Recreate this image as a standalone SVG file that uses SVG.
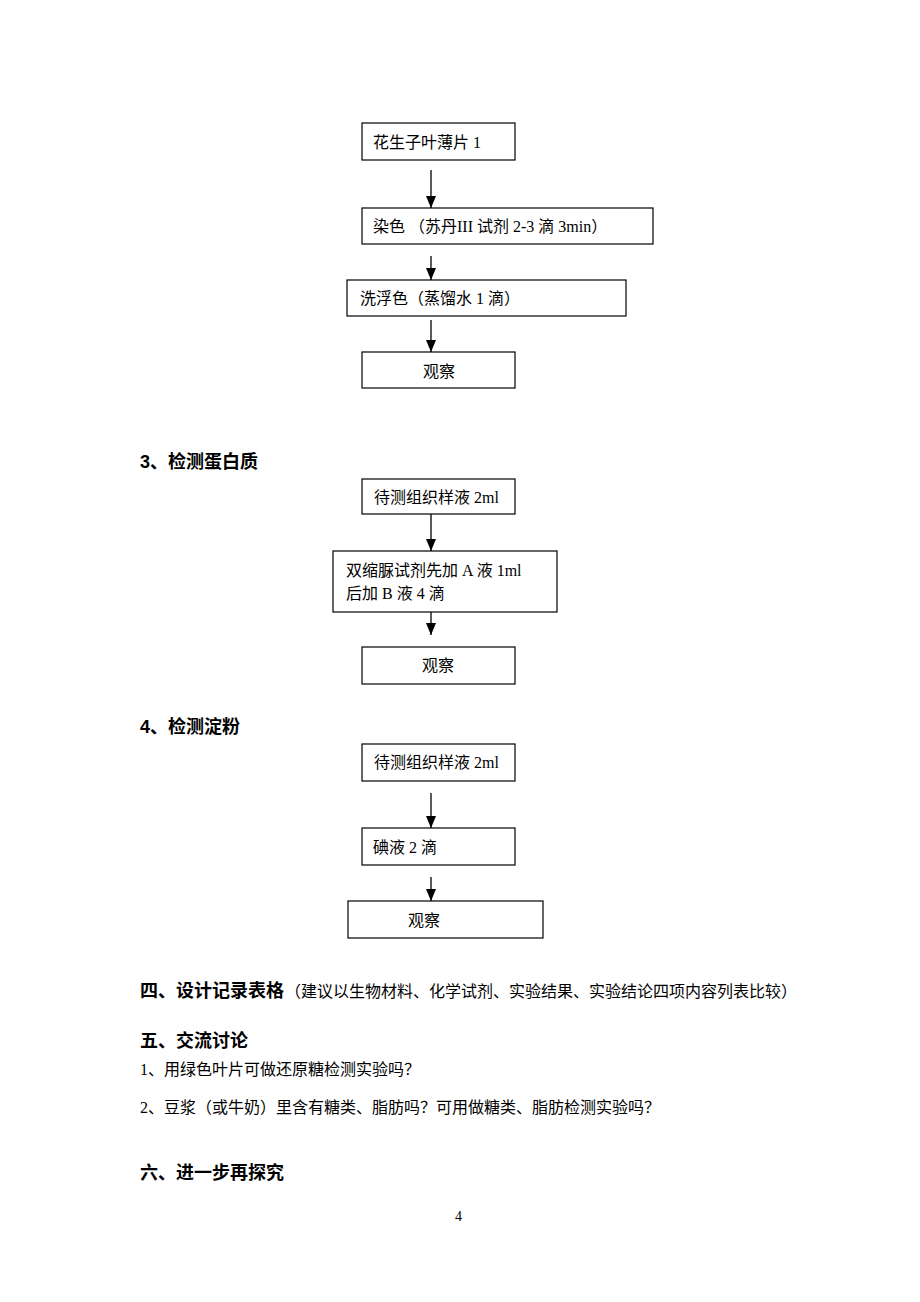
<svg xmlns="http://www.w3.org/2000/svg" width="920" height="1302" viewBox="0 0 920 1302">
<style>
.box{fill:#fff;stroke:#000;stroke-width:1.2}
.bt{font-family:'Liberation Serif','Noto Sans CJK SC',serif;font-size:16px;fill:#000}
.h{font-family:'Liberation Sans','Noto Sans CJK SC',sans-serif;font-size:18px;font-weight:bold;fill:#000}
.p{font-family:'Liberation Serif','Noto Sans CJK SC',serif;font-size:16px;fill:#000}
.con line{stroke:#000;stroke-width:1.3;marker-end:url(#ah)}
</style>
<defs>
<marker id="ah" markerUnits="userSpaceOnUse" markerWidth="12" markerHeight="10" refX="12" refY="5" orient="auto" viewBox="0 0 12 10">
<path d="M0,0 L12,5 L0,10 Z" fill="#000"/>
</marker>
</defs>
<rect width="920" height="1302" fill="#fff"/>

<g id="n1"><rect class="box" x="362" y="123" width="153" height="37"/><text class="bt" x="373" y="148">花生子叶薄片 1</text></g>
<g id="n2"><rect class="box" x="362" y="208" width="291" height="36"/><text class="bt" x="373" y="232">染色 （苏丹III  试剂 2-3 滴 3min）</text></g>
<g id="n3"><rect class="box" x="347" y="280" width="279" height="36"/><text class="bt" x="360" y="304">洗浮色（蒸馏水 1 滴）</text></g>
<g id="n4"><rect class="box" x="362" y="352" width="153" height="36"/><text class="bt" x="423" y="377">观察</text></g>

<g id="h3"><text class="h" x="140" y="468">3、检测蛋白质</text></g>
<g id="n5"><rect class="box" x="362" y="479" width="153" height="35"/><text class="bt" x="374" y="503">待测组织样液 2ml</text></g>
<g id="n6"><rect class="box" x="333" y="551" width="224" height="61"/><text class="bt" x="346" y="576">双缩脲试剂先加 A 液 1ml</text><text class="bt" x="346" y="599">后加 B 液 4 滴</text></g>
<g id="n7"><rect class="box" x="362" y="647" width="153" height="37"/><text class="bt" x="422" y="671">观察</text></g>

<g id="h4"><text class="h" x="140" y="733">4、检测淀粉</text></g>
<g id="n8"><rect class="box" x="362" y="744" width="153" height="37"/><text class="bt" x="374" y="768">待测组织样液 2ml</text></g>
<g id="n9"><rect class="box" x="362" y="828" width="153" height="37"/><text class="bt" x="373" y="853">碘液 2 滴</text></g>
<g id="n10"><rect class="box" x="348" y="901" width="195" height="37"/><text class="bt" x="408" y="926">观察</text></g>

<g id="con" class="con">
<line x1="431" y1="170" x2="431" y2="208"/>
<line x1="431" y1="256" x2="431" y2="280"/>
<line x1="431" y1="320" x2="431" y2="352"/>
<line x1="431" y1="514" x2="431" y2="551"/>
<line x1="431" y1="612" x2="431" y2="635"/>
<line x1="431" y1="793" x2="431" y2="828"/>
<line x1="431" y1="877" x2="431" y2="901"/>
</g>

<g id="text">
<text x="140" y="997"><tspan class="h">四、设计记录表格</tspan><tspan class="p" dx="1">（建议以生物材料、化学试剂、实验结果、实验结论四项内容列表比较）</tspan></text>
<text class="h" x="140" y="1047">五、交流讨论</text>
<text class="p" x="140" y="1075">1、用绿色叶片可做还原糖检测实验吗？</text>
<text class="p" x="140" y="1113">2、豆浆（或牛奶）里含有糖类、脂肪吗？可用做糖类、脂肪检测实验吗？</text>
<text class="h" x="140" y="1179">六、进一步再探究</text>
<text class="p" x="455" y="1221" style="font-size:14px">4</text>
</g>
</svg>
